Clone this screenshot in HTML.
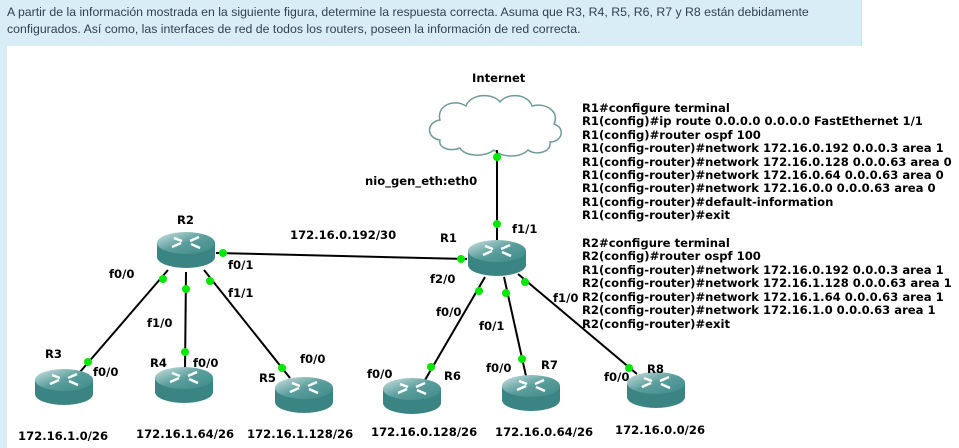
<!DOCTYPE html>
<html><head><meta charset="utf-8"><style>
body{margin:0;width:959px;height:448px;overflow:hidden;background:#fff;font-family:"Liberation Sans",Arial,sans-serif}
#q{position:absolute;left:0;top:0;width:861px;height:46px;background:#d9edf7;border-right:1px solid #bce8f1}
#q p{margin:0;padding:4px 0 0 7px;font-size:12.3px;line-height:17px;color:#31404f}
#strip{position:absolute;left:0;top:46px;width:7px;height:402px;background:#d9edf7}
svg{position:absolute;left:0;top:0}
text{font-family:"DejaVu Sans",sans-serif;font-weight:bold;font-size:11.6px;fill:#000}
.c text{font-size:11.6px}
</style></head><body>
<div id="q"><p>A partir de la información mostrada en la siguiente figura, determine la respuesta correcta. Asuma que R3, R4, R5, R6, R7 y R8 están debidamente configurados. Así como, las interfaces de red de todos los routers, poseen la información de red correcta.</p></div>
<div id="strip"></div>
<svg width="959" height="448">
<defs>
<linearGradient id="tg" x1="0" y1="0" x2="1" y2="1"><stop offset="0" stop-color="#cfe3e3"/><stop offset="0.5" stop-color="#5a9e9d"/><stop offset="1" stop-color="#3e8a89"/></linearGradient>
<g id="rt">
<path d="M-29,0 v14 a29,11 0 0 0 58,0 v-14 z" fill="#3a8584"/>
<ellipse cx="0" cy="0" rx="29" ry="11" fill="url(#tg)"/>
<path d="M-12,-5 l8,3 M-14,4 l9,-4 M4,-2 l9,-4 M5,1 l9,4" stroke="#fff" stroke-width="2.5" fill="none"/>
</g>
</defs>
<path d="M440,140 c-14,-2 -14,-18 0,-20 c-4,-14 14,-22 26,-14 c4,-12 26,-14 34,-4 c8,-10 28,-8 32,4 c14,-4 28,6 22,18 c12,4 8,18 -4,18 c2,10 -14,14 -22,8 c-8,8 -26,8 -34,0 c-10,8 -30,6 -34,-2 c-10,4 -22,0 -20,-8 z" fill="#fff" stroke="#6f9a9a" stroke-width="1.5"/>
<g stroke="#000" stroke-width="2" fill="none">
<line x1="497" y1="150" x2="497" y2="240"/>
<line x1="216" y1="253" x2="467" y2="259"/>
<line x1="168" y1="270" x2="80" y2="372"/>
<line x1="186" y1="272" x2="185" y2="370"/>
<line x1="204" y1="270" x2="290" y2="378"/>
<line x1="485" y1="277" x2="425" y2="380"/>
<line x1="504" y1="277" x2="526" y2="376"/>
<line x1="518" y1="274" x2="637" y2="374"/>
</g>
<use href="#rt" x="186" y="243"/>
<use href="#rt" x="497" y="251"/>
<use href="#rt" x="64" y="380"/>
<use href="#rt" x="184" y="378"/>
<use href="#rt" x="304" y="388"/>
<use href="#rt" x="412" y="389"/>
<use href="#rt" x="531" y="386"/>
<use href="#rt" x="656" y="383"/>
<g fill="#00e800">
<circle cx="497" cy="157" r="4"/><circle cx="497" cy="224" r="4"/>
<circle cx="223" cy="253" r="4"/><circle cx="461" cy="259" r="4"/>
<circle cx="163" cy="279" r="4"/><circle cx="186" cy="289" r="4"/><circle cx="210" cy="281" r="4"/>
<circle cx="88" cy="362" r="4"/><circle cx="185" cy="352" r="4"/><circle cx="282" cy="368" r="4"/>
<circle cx="479" cy="291" r="4"/><circle cx="506" cy="293" r="4"/><circle cx="525" cy="282" r="4"/>
<circle cx="431" cy="367" r="4"/><circle cx="522" cy="359" r="4"/><circle cx="629" cy="368" r="4"/>
</g>
<text x="472" y="82">Internet</text>
<text x="365" y="185">nio_gen_eth:eth0</text>
<text x="512" y="233">f1/1</text>
<text x="440" y="242">R1</text>
<text x="290" y="239">172.16.0.192/30</text>
<text x="177" y="224">R2</text>
<text x="228" y="269">f0/1</text>
<text x="228" y="297">f1/1</text>
<text x="109" y="278">f0/0</text>
<text x="147" y="327">f1/0</text>
<text x="430" y="283">f2/0</text>
<text x="436" y="316">f0/0</text>
<text x="479" y="330">f0/1</text>
<text x="553" y="302">f1/0</text>
<text x="45" y="358">R3</text>
<text x="93" y="376">f0/0</text>
<text x="150" y="367">R4</text>
<text x="193" y="367">f0/0</text>
<text x="300" y="363">f0/0</text>
<text x="259" y="382">R5</text>
<text x="367" y="378">f0/0</text>
<text x="444" y="380">R6</text>
<text x="486" y="372">f0/0</text>
<text x="541" y="369">R7</text>
<text x="604" y="381">f0/0</text>
<text x="647" y="373">R8</text>
<text x="18" y="440">172.16.1.0/26</text>
<text x="136" y="438">172.16.1.64/26</text>
<text x="247" y="438">172.16.1.128/26</text>
<text x="371" y="436">172.16.0.128/26</text>
<text x="495" y="436">172.16.0.64/26</text>
<text x="615" y="434">172.16.0.0/26</text>
<g class="c">
<text x="582" y="112">R1#configure terminal</text>
<text x="582" y="125">R1(config)#ip route 0.0.0.0 0.0.0.0 FastEthernet 1/1</text>
<text x="582" y="139">R1(config)#router ospf 100</text>
<text x="582" y="152">R1(config-router)#network 172.16.0.192 0.0.0.3 area 1</text>
<text x="582" y="166">R1(config-router)#network 172.16.0.128 0.0.0.63 area 0</text>
<text x="582" y="179">R1(config-router)#network 172.16.0.64 0.0.0.63 area 0</text>
<text x="582" y="192">R1(config-router)#network 172.16.0.0 0.0.0.63 area 0</text>
<text x="582" y="206">R1(config-router)#default-information</text>
<text x="582" y="219">R1(config-router)#exit</text>
<text x="582" y="247">R2#configure terminal</text>
<text x="582" y="260">R2(config)#router ospf 100</text>
<text x="582" y="274">R1(config-router)#network 172.16.0.192 0.0.0.3 area 1</text>
<text x="582" y="287">R2(config-router)#network 172.16.1.128 0.0.0.63 area 1</text>
<text x="582" y="301">R2(config-router)#network 172.16.1.64 0.0.0.63 area 1</text>
<text x="582" y="314">R2(config-router)#network 172.16.1.0 0.0.0.63 area 1</text>
<text x="582" y="328">R2(config-router)#exit</text>
</g>
</svg>
</body></html>
